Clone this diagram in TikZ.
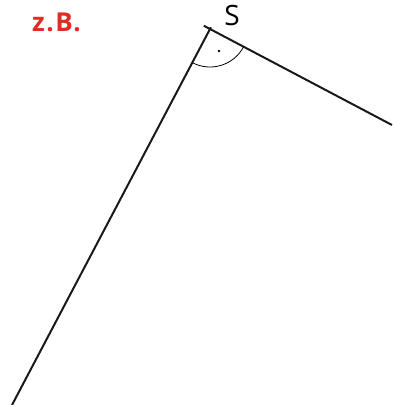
\documentclass[tikz,border=0pt]{standalone}
\usepackage{fontspec}
\setmainfont{Open Sans}
\usetikzlibrary{calc}
\definecolor{zbred}{RGB}{222,45,35}
\begin{document}
\begin{tikzpicture}[x=1pt,y=-1pt,
  leg/.style={line width=2pt,black!90},
  arcline/.style={line width=0.8pt},
  lbl/.style={inner sep=0pt,anchor=base}]
\useasboundingbox (0,0) rectangle (392,405);
\coordinate (S) at (210,29);
\coordinate (A) at (12,405);
\coordinate (B) at (392,125);
\coordinate (Bt) at ($(S)!-7pt!(B)$);
\coordinate (At) at ($(S)!-2pt!(A)$);
\draw[leg] (At) -- (A);
\draw[leg] (Bt) -- (B);
\draw[arcline] ($(S)!38pt!(A)$) arc[start angle=117.8, end angle=27.8, radius=38];
\fill (219,51) circle (1.3);
\node[lbl,font=\fontsize{28}{30}\selectfont] (slabel) at (232,25) {S};
\node[lbl,anchor=base west,font=\fontsize{26}{29}\selectfont\bfseries\addfontfeature{LetterSpace=6},text=zbred] (zb) at (32,31.5) {z.B.};
\end{tikzpicture}
\end{document}
